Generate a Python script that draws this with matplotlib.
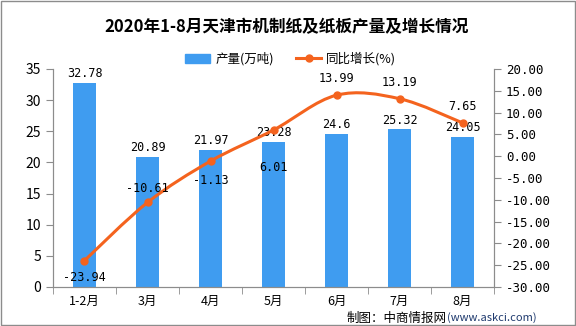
import matplotlib
matplotlib.use("Agg")
import matplotlib.pyplot as plt
from matplotlib.path import Path
from matplotlib.patches import PathPatch, Rectangle
from matplotlib.lines import Line2D

plt.rcParams["font.family"] = ["Noto Sans CJK SC", "DejaVu Sans"]

months = ["1-2月", "3月", "4月", "5月", "6月", "7月", "8月"]
output = [32.78, 20.89, 21.97, 23.28, 24.6, 25.32, 24.05]
growth = [-23.94, -10.61, -1.13, 6.01, 13.99, 13.19, 7.65]
growth_labels = ["-23.94", "-10.61", "-1.13", "6.01", "13.99", "13.19", "7.65"]
# vertical offset (points) of each growth label, as placed in the original
label_offsets = [-12, 10, -14, -27, 12, 12, 12]

bar_color = "#3F9CF0"
line_color = "#F4631E"
axis_gray = "#8C8C8C"

fig = plt.figure(figsize=(5.76, 3.26), dpi=100)
ax = fig.add_axes([53 / 576, 1 - 287 / 326, 441 / 576, 218 / 326])
ax2 = ax.twinx()

x = list(range(len(months)))
bars = ax.bar(x, output, width=0.36, color=bar_color, zorder=2)
for xi, v in zip(x, output):
    ax.annotate(f"{v:g}", (xi, v), xytext=(0, 2), textcoords="offset points",
                ha="center", va="bottom", fontsize=8.5, family="DejaVu Sans Mono")

# smooth line through the points (Catmull-Rom as cubic Bezier)
pts = list(zip(x, growth))
verts = [pts[0]]
codes = [Path.MOVETO]
for i in range(len(pts) - 1):
    p0 = pts[i - 1] if i > 0 else pts[i]
    p1 = pts[i]
    p2 = pts[i + 1]
    p3 = pts[i + 2] if i + 2 < len(pts) else pts[i + 1]
    c1 = (p1[0] + (p2[0] - p0[0]) / 6, p1[1] + (p2[1] - p0[1]) / 6)
    c2 = (p2[0] - (p3[0] - p1[0]) / 6, p2[1] - (p3[1] - p1[1]) / 6)
    verts += [c1, c2, p2]
    codes += [Path.CURVE4] * 3
ax2.add_patch(PathPatch(Path(verts, codes), facecolor="none", edgecolor=line_color,
                        lw=2.2, zorder=3))
ax2.plot(x, growth, "o", color=line_color, markersize=5, zorder=4)
for xi, v, lab, off in zip(x, growth, growth_labels, label_offsets):
    ax2.annotate(lab, (xi, v), xytext=(0, off), textcoords="offset points",
                 ha="center", va="center", fontsize=8.5, family="DejaVu Sans Mono")

ax.set_xlim(-0.5, len(months) - 0.5)
ax.set_ylim(0, 35)
ax.set_yticks(range(0, 36, 5))
ax2.set_ylim(-30, 20)
ax2.set_yticks(range(-30, 21, 5))
ax2.set_yticklabels([f"{t:.2f}" for t in range(-30, 21, 5)], family="DejaVu Sans Mono")

ax.set_xticks(x)
ax.set_xticklabels(months, fontsize=9)
ax.set_xticks([i - 0.5 for i in range(len(months) + 1)], minor=True)
ax.tick_params(axis="x", which="major", length=0, pad=6)
ax.tick_params(axis="x", which="minor", length=5, color=axis_gray)
ax.tick_params(axis="y", length=5, color=axis_gray, labelsize=10)
ax2.tick_params(axis="y", length=5, color=axis_gray, labelsize=9)

for a in (ax, ax2):
    a.spines["top"].set_visible(False)
    for s in ("left", "right", "bottom"):
        a.spines[s].set_color(axis_gray)

fig.text(0.497, 1 - 27 / 326, "2020年1-8月天津市机制纸及纸板产量及增长情况",
         ha="center", va="center", fontsize=12, fontweight="bold")

handles = [Rectangle((0, 0), 1, 1, color=bar_color),
           Line2D([], [], color=line_color, lw=2.2, marker="o", markersize=5)]
fig.legend(handles, ["产量(万吨)", "同比增长(%)"], loc="center",
           bbox_to_anchor=(0.505, 1 - 59 / 326), ncol=2, frameon=False,
           fontsize=9, handlelength=2.0, columnspacing=1.8, handletextpad=0.4)

# source note: url part placed first, chinese part right next to it
url = fig.text(537 / 576, 1 - 318 / 326, "(www.askci.com)", ha="right", va="center",
               fontsize=8, color="#1F3A6E")
fig.canvas.draw()
url_left = url.get_window_extent().x0 / fig.bbox.width
fig.text(url_left - 0.002, 1 - 318 / 326, "制图：中商情报网", ha="right", va="center",
         fontsize=9)

fig.patches.append(Rectangle((0.001, 0.002), 0.997, 0.995, transform=fig.transFigure,
                             fill=False, edgecolor=axis_gray, lw=1))

fig.savefig("out.png", dpi=100)
